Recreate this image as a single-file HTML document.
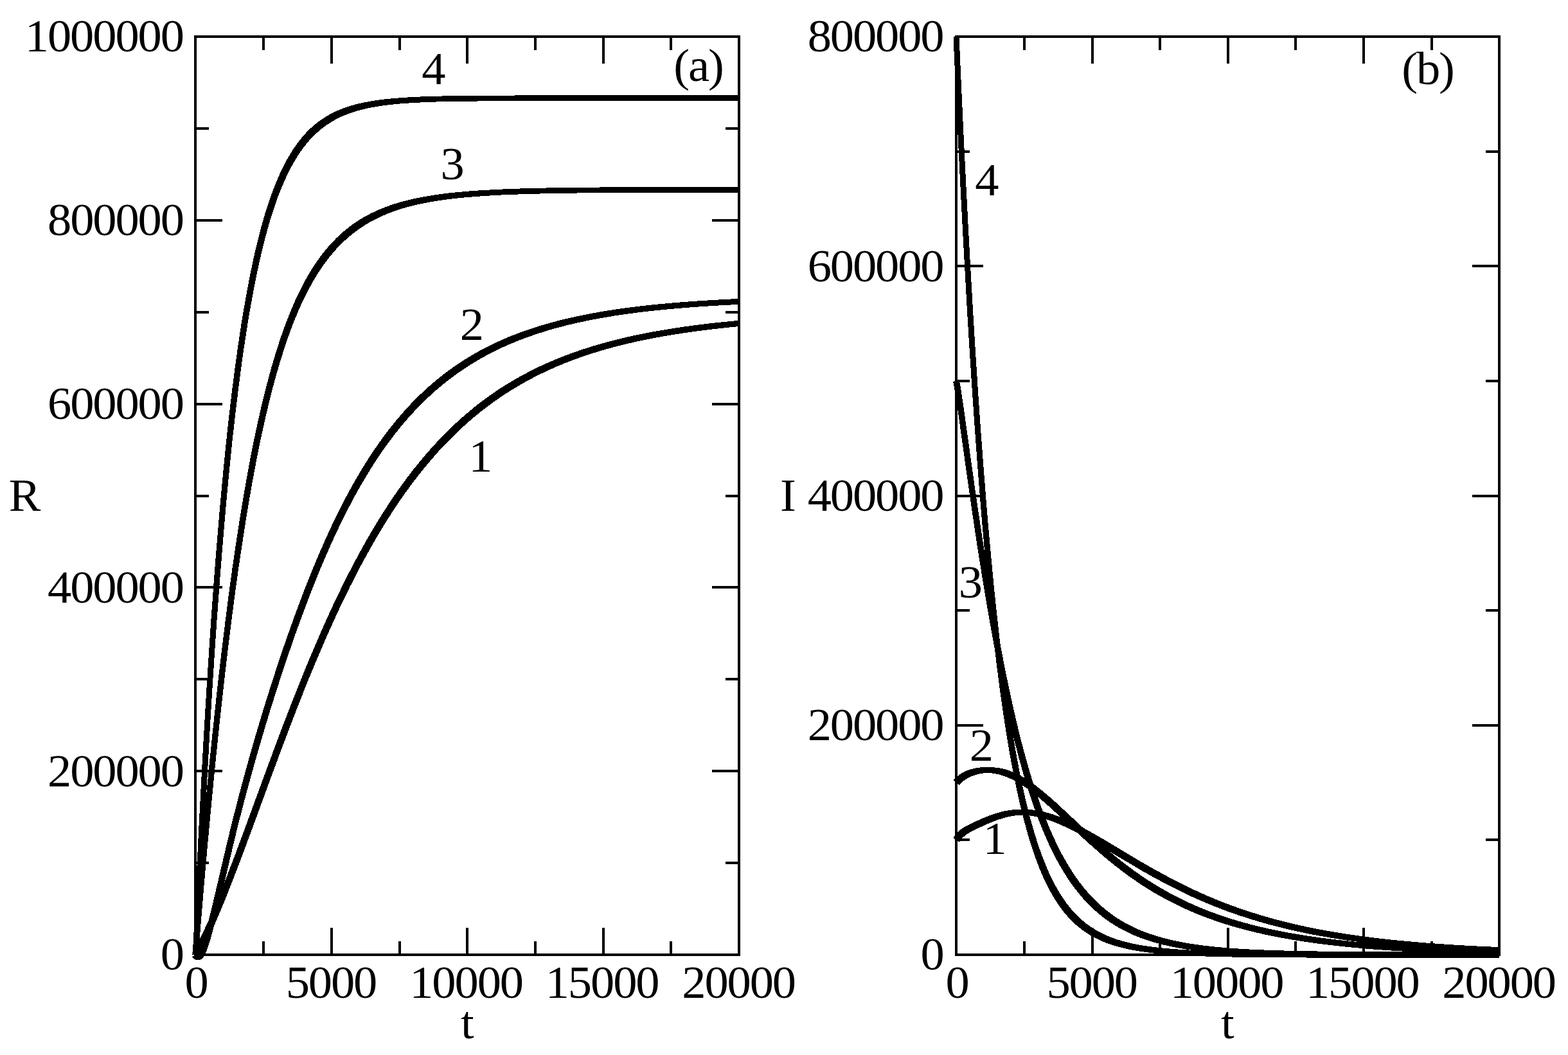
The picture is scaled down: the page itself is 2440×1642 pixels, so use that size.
<!DOCTYPE html>
<html lang="en">
<head>
<meta charset="utf-8">
<title>R and I versus t</title>
<style>
html,body{margin:0;padding:0;background:#fff;}
body{width:2440px;height:1642px;overflow:hidden;}
svg{display:block;}
.ax rect{fill:#000;}
.cv path{fill:#000;stroke:none;}
.tx text{font-family:"Liberation Serif","DejaVu Serif",serif;font-size:74.5px;letter-spacing:-2.1px;fill:#000;}
</style>
</head>
<body>
<svg xmlns="http://www.w3.org/2000/svg" width="2440" height="1642" viewBox="0 0 2440 1642">
<rect x="0" y="0" width="2440" height="1642" fill="#fff"/>
<g class="ax" shape-rendering="crispEdges">
<rect x="302" y="55" width="850" height="4"/>
<rect x="302" y="1484" width="850" height="4"/>
<rect x="302" y="55" width="4" height="1433"/>
<rect x="1148" y="55" width="4" height="1433"/>
<rect x="302" y="57" width="4" height="42"/>
<rect x="302" y="1444" width="4" height="42"/>
<rect x="408" y="57" width="4" height="21"/>
<rect x="408" y="1465" width="4" height="21"/>
<rect x="514" y="57" width="4" height="42"/>
<rect x="514" y="1444" width="4" height="42"/>
<rect x="620" y="57" width="4" height="21"/>
<rect x="620" y="1465" width="4" height="21"/>
<rect x="725" y="57" width="4" height="42"/>
<rect x="725" y="1444" width="4" height="42"/>
<rect x="831" y="57" width="4" height="21"/>
<rect x="831" y="1465" width="4" height="21"/>
<rect x="937" y="57" width="4" height="42"/>
<rect x="937" y="1444" width="4" height="42"/>
<rect x="1042" y="57" width="4" height="21"/>
<rect x="1042" y="1465" width="4" height="21"/>
<rect x="1148" y="57" width="4" height="42"/>
<rect x="1148" y="1444" width="4" height="42"/>
<rect x="304" y="1484" width="42" height="4"/>
<rect x="1108" y="1484" width="42" height="4"/>
<rect x="304" y="1341" width="21" height="4"/>
<rect x="1129" y="1341" width="21" height="4"/>
<rect x="304" y="1198" width="42" height="4"/>
<rect x="1108" y="1198" width="42" height="4"/>
<rect x="304" y="1055" width="21" height="4"/>
<rect x="1129" y="1055" width="21" height="4"/>
<rect x="304" y="912" width="42" height="4"/>
<rect x="1108" y="912" width="42" height="4"/>
<rect x="304" y="770" width="21" height="4"/>
<rect x="1129" y="770" width="21" height="4"/>
<rect x="304" y="627" width="42" height="4"/>
<rect x="1108" y="627" width="42" height="4"/>
<rect x="304" y="484" width="21" height="4"/>
<rect x="1129" y="484" width="21" height="4"/>
<rect x="304" y="341" width="42" height="4"/>
<rect x="1108" y="341" width="42" height="4"/>
<rect x="304" y="198" width="21" height="4"/>
<rect x="1129" y="198" width="21" height="4"/>
<rect x="304" y="55" width="42" height="4"/>
<rect x="1108" y="55" width="42" height="4"/>
<rect x="1486" y="55" width="849" height="4"/>
<rect x="1486" y="1484" width="849" height="4"/>
<rect x="1486" y="55" width="4" height="1433"/>
<rect x="2331" y="55" width="4" height="1433"/>
<rect x="1486" y="57" width="4" height="42"/>
<rect x="1486" y="1444" width="4" height="42"/>
<rect x="1592" y="57" width="4" height="21"/>
<rect x="1592" y="1465" width="4" height="21"/>
<rect x="1698" y="57" width="4" height="42"/>
<rect x="1698" y="1444" width="4" height="42"/>
<rect x="1803" y="57" width="4" height="21"/>
<rect x="1803" y="1465" width="4" height="21"/>
<rect x="1909" y="57" width="4" height="42"/>
<rect x="1909" y="1444" width="4" height="42"/>
<rect x="2014" y="57" width="4" height="21"/>
<rect x="2014" y="1465" width="4" height="21"/>
<rect x="2120" y="57" width="4" height="42"/>
<rect x="2120" y="1444" width="4" height="42"/>
<rect x="2226" y="57" width="4" height="21"/>
<rect x="2226" y="1465" width="4" height="21"/>
<rect x="2331" y="57" width="4" height="42"/>
<rect x="2331" y="1444" width="4" height="42"/>
<rect x="1488" y="1484" width="42" height="4"/>
<rect x="2291" y="1484" width="42" height="4"/>
<rect x="1488" y="1305" width="21" height="4"/>
<rect x="2312" y="1305" width="21" height="4"/>
<rect x="1488" y="1127" width="42" height="4"/>
<rect x="2291" y="1127" width="42" height="4"/>
<rect x="1488" y="948" width="21" height="4"/>
<rect x="2312" y="948" width="21" height="4"/>
<rect x="1488" y="770" width="42" height="4"/>
<rect x="2291" y="770" width="42" height="4"/>
<rect x="1488" y="591" width="21" height="4"/>
<rect x="2312" y="591" width="21" height="4"/>
<rect x="1488" y="412" width="42" height="4"/>
<rect x="2291" y="412" width="42" height="4"/>
<rect x="1488" y="234" width="21" height="4"/>
<rect x="2312" y="234" width="21" height="4"/>
<rect x="1488" y="55" width="42" height="4"/>
<rect x="2291" y="55" width="42" height="4"/>
</g>
<g class="cv" shape-rendering="crispEdges">
<path d="M309.0 1488.8L313.9 1480.1L318.7 1470.7L323.8 1460.5L329.1 1449.3L334.7 1437.1L340.2 1424.5L346.1 1410.5L352.2 1395.4L363.6 1366.5L376.3 1333.2L390.1 1296.2L421.4 1210.8L435.8 1172.0L451.0 1131.6L465.2 1095.0L473.4 1074.2L481.4 1054.3L489.3 1035.3L497.1 1016.8L504.9 998.6L512.5 981.4L520.1 964.6L527.7 948.2L536.6 929.5L545.3 911.9L553.9 894.9L562.8 878.0L571.5 862.1L580.3 846.4L589.2 831.2L598.0 816.6L606.9 802.5L615.9 788.6L625.0 775.3L634.2 762.3L643.5 749.8L652.7 737.8L662.2 726.1L671.6 714.9L682.3 702.7L693.0 691.3L703.9 680.2L714.8 669.7L726.0 659.3L737.3 649.6L749.0 640.1L760.7 631.1L772.6 622.5L784.9 614.1L797.3 606.3L810.0 598.7L822.9 591.4L836.3 584.5L849.9 577.9L863.7 571.7L877.9 565.7L892.4 560.1L907.4 554.7L922.7 549.7L938.5 544.9L954.6 540.4L971.4 536.1L988.6 532.1L1006.5 528.3L1024.8 524.8L1043.8 521.5L1063.6 518.4L1084.0 515.5L1105.3 512.8L1127.4 510.3L1150.5 508.0L1149.5 498.8L1126.5 501.0L1104.2 503.4L1082.8 506.0L1062.2 508.8L1042.2 511.9L1023.1 515.1L1004.6 518.5L986.5 522.2L969.0 526.2L952.0 530.4L935.6 534.9L919.6 539.6L904.0 544.6L888.6 550.0L873.9 555.6L859.3 561.6L845.2 567.8L831.3 574.4L817.6 581.5L804.3 588.8L791.3 596.5L778.6 604.4L766.0 612.9L753.8 621.7L741.8 630.8L729.8 640.6L718.2 650.5L706.7 661.1L695.6 671.8L684.5 683.1L673.6 694.8L662.7 707.2L653.1 718.6L643.5 730.5L634.1 742.7L624.8 755.4L615.4 768.7L606.3 782.2L597.1 796.3L588.2 810.5L579.3 825.3L570.4 840.7L561.5 856.6L552.8 872.7L543.9 889.7L535.2 906.9L526.5 924.7L517.6 943.4L510.0 959.9L502.4 976.9L494.8 994.2L487.0 1012.5L479.1 1031.1L471.3 1050.2L463.3 1070.1L455.0 1091.0L440.8 1127.7L425.6 1168.2L411.2 1207.1L379.9 1292.5L366.2 1329.4L353.5 1362.6L342.1 1391.4L335.9 1406.2L330.0 1420.1L324.5 1432.6L319.0 1444.6L313.8 1455.5L308.7 1465.6L303.9 1474.6L299.0 1483.2Z"/>
<path d="M1492.9 1310.5L1494.5 1308.1L1495.9 1306.2L1497.6 1304.3L1499.2 1302.7L1501.0 1301.2L1503.2 1299.4L1505.6 1297.7L1508.3 1296.1L1512.8 1293.6L1518.3 1290.8L1526.0 1287.2L1533.5 1283.8L1539.5 1281.2L1544.9 1279.0L1550.0 1277.0L1554.8 1275.3L1562.7 1273.0L1566.4 1271.9L1570.0 1271.1L1573.7 1270.4L1577.3 1269.7L1580.9 1269.2L1584.6 1268.9L1588.2 1268.6L1591.9 1268.5L1595.5 1268.7L1599.4 1269.1L1603.3 1269.5L1607.1 1270.1L1611.0 1270.8L1614.8 1271.7L1621.3 1273.3L1627.8 1275.2L1634.6 1277.4L1641.6 1280.0L1648.8 1283.0L1656.4 1286.4L1664.3 1290.1L1672.6 1294.3L1686.2 1301.6L1701.9 1310.6L1717.4 1319.8L1762.9 1346.9L1777.5 1355.5L1791.1 1363.2L1806.0 1371.3L1820.4 1378.9L1834.5 1386.0L1848.5 1392.8L1862.2 1399.0L1875.8 1404.9L1889.4 1410.5L1903.1 1415.8L1916.9 1420.9L1931.0 1425.7L1945.2 1430.3L1959.5 1434.6L1977.6 1439.7L1996.1 1444.4L2015.0 1448.8L2034.6 1453.0L2054.5 1456.8L2075.1 1460.3L2096.5 1463.6L2118.6 1466.6L2141.5 1469.4L2165.2 1472.0L2190.0 1474.3L2215.8 1476.4L2242.9 1478.4L2271.3 1480.1L2301.1 1481.7L2332.8 1483.1L2333.2 1474.1L2301.5 1472.7L2271.8 1471.1L2243.5 1469.3L2216.5 1467.3L2190.8 1465.1L2166.2 1462.7L2142.6 1460.1L2119.8 1457.2L2098.0 1454.1L2076.7 1450.7L2056.3 1447.1L2036.6 1443.2L2017.2 1439.0L1998.6 1434.5L1980.3 1429.7L1962.5 1424.6L1948.4 1420.2L1934.4 1415.6L1920.6 1410.8L1906.9 1405.7L1893.5 1400.4L1880.1 1394.8L1866.7 1388.9L1853.3 1382.7L1839.5 1375.9L1825.6 1368.9L1811.4 1361.3L1796.7 1353.2L1783.2 1345.6L1768.7 1337.1L1723.3 1309.9L1707.6 1300.7L1691.6 1291.7L1677.8 1284.3L1669.2 1280.1L1661.0 1276.3L1653.0 1272.8L1645.4 1269.9L1638.0 1267.3L1630.8 1265.1L1623.8 1263.3L1616.8 1261.8L1612.6 1261.2L1608.4 1260.6L1604.3 1260.2L1600.1 1259.9L1595.9 1259.8L1592.0 1259.8L1588.0 1259.8L1584.1 1259.8L1580.1 1260.0L1576.1 1260.3L1572.2 1260.8L1568.2 1261.4L1564.2 1262.1L1559.9 1263.0L1551.7 1265.3L1546.4 1266.9L1541.0 1268.9L1535.3 1271.0L1529.1 1273.6L1521.4 1277.1L1513.5 1280.7L1507.6 1283.6L1502.8 1286.1L1499.5 1288.0L1496.5 1289.9L1493.6 1292.0L1491.2 1294.1L1489.0 1296.3L1486.8 1298.8L1484.9 1301.4L1483.1 1304.2Z"/>
<path d="M299.2 1489.3L300.3 1491.0L302.1 1492.8L304.7 1493.9L307.5 1493.6L310.3 1494.0L312.8 1493.3L314.9 1491.8L316.5 1490.0L317.8 1487.9L319.1 1485.3L320.3 1482.8L321.5 1479.6L324.1 1472.7L326.8 1464.1L329.1 1456.0L331.4 1447.5L334.1 1436.9L337.1 1424.9L342.4 1402.8L361.0 1323.4L367.5 1296.4L374.1 1270.2L380.9 1244.0L387.7 1218.6L394.7 1193.3L402.1 1167.2L411.4 1135.5L420.9 1104.2L430.9 1072.6L440.8 1042.1L450.8 1012.6L460.7 984.1L470.7 956.7L480.4 930.8L489.3 908.2L497.9 886.9L506.6 866.4L515.3 846.7L523.9 827.9L532.8 809.5L541.7 791.9L550.5 775.1L559.6 758.7L568.7 743.2L577.9 728.0L587.2 713.7L596.6 699.9L606.3 686.5L615.9 673.9L625.8 661.6L630.8 655.7L636.0 649.7L641.3 643.9L646.5 638.3L651.7 632.9L657.1 627.4L662.6 622.1L668.0 617.0L673.4 612.0L679.0 607.0L684.7 602.2L690.5 597.4L696.3 592.8L702.2 588.3L708.0 584.0L714.0 579.6L720.1 575.5L726.1 571.5L732.4 567.5L738.6 563.7L745.1 559.8L751.5 556.2L758.0 552.7L764.7 549.2L771.3 545.8L778.2 542.5L785.1 539.3L792.2 536.2L799.3 533.2L806.4 530.3L813.7 527.5L821.2 524.7L836.3 519.5L852.0 514.5L868.1 509.9L884.7 505.7L901.9 501.7L920.0 497.9L938.7 494.5L958.3 491.2L978.5 488.3L999.5 485.6L1021.7 483.1L1044.7 480.9L1068.9 478.8L1094.5 477.0L1121.5 475.3L1150.2 473.8L1149.8 464.9L1121.0 466.3L1093.9 467.9L1068.2 469.7L1043.8 471.7L1020.7 473.8L998.4 476.2L977.2 478.8L956.8 481.7L937.0 484.8L918.1 488.2L899.8 491.9L882.3 495.8L865.5 500.0L849.0 504.5L833.0 509.4L817.7 514.5L809.9 517.3L802.4 520.2L795.1 523.0L787.9 526.0L780.6 529.2L773.5 532.4L766.4 535.7L759.6 539.1L752.7 542.7L746.0 546.2L739.4 549.9L732.7 553.8L726.3 557.7L719.8 561.8L713.6 565.9L707.4 570.1L701.2 574.5L695.1 578.9L689.1 583.5L683.1 588.3L677.1 593.2L671.3 598.1L665.5 603.2L660.0 608.3L654.4 613.6L648.8 619.0L643.2 624.6L637.9 630.2L632.5 636.0L627.2 641.9L621.9 648.1L616.7 654.2L606.7 666.6L596.9 679.5L587.1 693.2L577.5 707.3L568.1 721.9L558.8 737.3L549.7 753.1L540.5 769.7L531.6 786.7L522.7 804.5L513.8 823.2L505.2 842.2L496.5 862.0L487.8 882.7L479.1 904.1L470.2 927.0L460.5 952.9L450.6 980.5L440.6 1009.1L430.7 1038.7L420.8 1069.4L410.8 1101.1L401.3 1132.5L392.0 1164.3L384.7 1190.5L377.7 1215.9L370.9 1241.4L364.2 1267.7L357.6 1294.0L351.1 1321.1L332.5 1400.5L327.2 1422.5L324.2 1434.3L321.4 1444.8L319.1 1453.2L316.7 1460.9L314.0 1469.1L311.4 1475.6L310.2 1478.2L309.2 1480.0L308.0 1481.8L307.2 1482.8L306.6 1483.4L306.6 1483.6L307.0 1483.9L308.1 1484.5L308.8 1483.8L309.7 1483.8L309.4 1483.5L308.8 1482.7Z"/>
<path d="M1492.3 1222.1L1494.1 1220.1L1495.8 1218.5L1497.7 1216.9L1499.5 1215.4L1501.5 1213.9L1503.6 1212.5L1505.8 1211.2L1508.1 1210.0L1510.5 1208.8L1513.0 1207.8L1515.7 1206.8L1518.4 1205.9L1521.4 1205.1L1524.3 1204.4L1527.3 1203.9L1530.2 1203.4L1533.2 1203.1L1536.2 1202.8L1539.2 1202.9L1542.1 1203.2L1548.2 1204.1L1554.1 1205.3L1560.1 1207.1L1566.0 1209.2L1572.2 1211.8L1578.4 1214.9L1582.6 1217.2L1586.9 1219.7L1591.3 1222.6L1595.8 1225.6L1600.6 1228.9L1605.3 1232.5L1610.3 1236.3L1615.4 1240.5L1625.0 1248.7L1635.9 1258.4L1647.7 1269.2L1674.7 1294.6L1687.2 1306.2L1700.8 1318.4L1713.4 1329.4L1727.8 1341.5L1735.1 1347.3L1742.2 1352.8L1749.2 1358.1L1756.2 1363.3L1763.1 1368.1L1770.1 1373.0L1778.3 1378.4L1786.4 1383.5L1794.5 1388.5L1802.9 1393.3L1811.2 1398.0L1819.8 1402.6L1828.3 1406.9L1836.9 1411.1L1845.7 1415.1L1854.4 1419.0L1863.4 1422.7L1872.6 1426.4L1881.8 1429.8L1891.2 1433.1L1900.8 1436.4L1910.6 1439.5L1919.8 1442.2L1929.0 1444.8L1938.5 1447.4L1948.1 1449.8L1957.9 1452.1L1967.9 1454.4L1978.1 1456.6L1988.3 1458.6L1998.8 1460.5L2009.6 1462.4L2031.9 1466.0L2055.2 1469.2L2079.6 1472.1L2105.0 1474.7L2131.9 1477.1L2160.3 1479.2L2190.4 1481.0L2222.3 1482.7L2256.6 1484.1L2293.4 1485.3L2332.9 1486.4L2333.1 1477.6L2293.6 1476.5L2256.9 1475.2L2222.7 1473.7L2190.9 1472.0L2160.9 1470.1L2132.7 1467.9L2105.9 1465.4L2080.7 1462.7L2056.5 1459.7L2033.3 1456.4L2011.2 1452.8L2000.5 1450.8L1990.3 1448.8L1980.2 1446.8L1970.1 1444.5L1960.3 1442.3L1950.6 1439.9L1941.2 1437.4L1931.8 1434.8L1922.8 1432.2L1913.8 1429.4L1904.1 1426.3L1894.7 1423.0L1885.5 1419.7L1876.6 1416.2L1867.6 1412.6L1858.8 1408.8L1850.3 1405.0L1841.7 1401.0L1833.4 1396.9L1825.0 1392.6L1816.7 1388.0L1808.6 1383.4L1800.4 1378.6L1792.5 1373.7L1784.6 1368.7L1776.7 1363.4L1769.8 1358.6L1763.1 1353.8L1756.2 1348.7L1749.3 1343.5L1742.4 1338.1L1735.3 1332.4L1721.0 1320.4L1708.7 1309.6L1695.2 1297.4L1682.8 1285.9L1655.7 1260.6L1643.8 1249.6L1632.8 1239.8L1622.9 1231.5L1617.5 1227.1L1612.4 1223.1L1607.4 1219.5L1602.4 1216.0L1597.6 1212.8L1592.8 1209.9L1588.2 1207.3L1583.5 1204.9L1576.6 1201.7L1569.7 1199.1L1563.0 1197.0L1556.2 1195.5L1549.5 1194.6L1542.9 1194.1L1539.4 1194.1L1536.1 1194.1L1532.8 1194.1L1529.4 1194.2L1526.1 1194.4L1522.7 1194.8L1519.3 1195.3L1515.9 1196.0L1512.7 1196.8L1509.5 1197.7L1506.4 1198.7L1503.4 1199.9L1500.6 1201.2L1497.8 1202.7L1495.2 1204.2L1492.6 1206.0L1490.2 1207.8L1487.8 1209.8L1485.7 1211.9L1483.7 1214.0Z"/>
<path d="M308.6 1486.4L313.5 1426.3L318.3 1368.9L323.4 1311.5L328.5 1256.6L333.6 1204.1L338.9 1151.9L344.0 1104.1L349.3 1056.6L354.6 1011.5L359.9 968.7L365.4 926.5L370.9 886.6L376.5 849.0L382.0 813.5L387.7 778.9L393.4 746.4L399.2 715.9L405.1 686.4L411.3 657.9L417.5 631.5L423.8 606.1L430.2 582.6L433.4 571.5L436.8 560.2L440.0 550.0L443.4 539.5L446.7 529.5L450.3 519.4L453.7 510.2L457.3 500.9L460.9 492.0L464.5 483.5L468.3 474.9L472.1 466.8L475.9 459.0L479.7 451.6L483.7 444.2L487.7 437.1L491.7 430.4L495.8 423.8L500.0 417.4L504.2 411.5L507.9 406.4L511.7 401.5L515.4 396.9L519.3 392.2L523.2 387.8L527.4 383.4L531.5 379.2L535.6 375.3L539.9 371.3L544.2 367.6L548.5 364.1L553.0 360.6L557.6 357.3L562.3 354.1L567.0 351.0L571.9 348.0L576.8 345.1L582.0 342.4L587.1 339.8L592.4 337.2L597.8 334.9L603.3 332.5L609.1 330.3L614.9 328.2L620.9 326.2L627.1 324.3L633.6 322.4L640.2 320.7L647.1 319.0L654.0 317.5L661.1 316.0L668.6 314.6L682.6 312.2L697.8 310.1L713.9 308.3L731.2 306.7L749.5 305.3L769.5 304.0L791.3 303.0L815.1 302.2L840.0 301.5L867.5 300.9L898.4 300.5L933.5 300.1L1020.2 299.7L1150.0 299.5L1150.0 290.9L1020.1 291.1L933.4 291.5L898.3 291.8L867.4 292.2L839.8 292.7L814.9 293.3L790.9 294.1L769.1 295.1L748.9 296.2L730.4 297.5L713.0 299.0L696.6 300.7L681.3 302.7L667.0 304.9L659.2 306.3L652.0 307.6L644.9 309.1L637.8 310.7L630.9 312.5L624.2 314.3L617.8 316.1L611.5 318.1L605.4 320.2L599.4 322.4L593.5 324.7L587.9 327.1L582.2 329.7L576.8 332.3L571.4 335.2L566.1 338.1L560.9 341.2L555.9 344.4L550.9 347.8L546.1 351.2L541.3 354.9L536.7 358.6L532.1 362.5L527.5 366.6L523.2 370.8L518.9 375.2L514.5 379.9L510.4 384.5L506.3 389.4L502.4 394.3L498.5 399.4L494.7 404.7L490.4 411.0L486.1 417.5L481.8 424.5L477.8 431.4L473.7 438.7L469.7 446.4L465.8 454.0L462.0 462.0L458.2 470.4L454.4 479.2L450.8 487.8L447.2 496.9L443.6 506.4L440.2 515.7L436.6 526.1L433.3 536.2L429.9 546.8L426.7 557.2L423.3 568.6L420.2 579.8L413.9 603.5L407.5 629.1L401.4 655.8L395.3 684.4L389.4 714.0L383.8 744.6L378.1 777.2L372.4 812.0L366.9 847.5L361.4 885.3L355.9 925.2L350.5 967.5L345.2 1010.4L339.9 1055.6L334.7 1103.1L329.6 1150.9L324.3 1203.2L319.3 1255.7L314.2 1310.6L309.1 1368.1L304.3 1425.6L299.4 1485.6Z"/>
<path d="M1483.1 593.8L1484.6 601.8L1486.4 611.9L1490.2 636.8L1507.1 757.5L1512.0 791.3L1516.8 824.0L1521.4 854.4L1526.3 885.2L1531.1 915.0L1536.0 943.8L1541.5 975.2L1546.9 1005.2L1552.4 1034.0L1557.9 1061.4L1563.4 1087.5L1568.8 1112.2L1574.3 1135.7L1580.0 1158.7L1585.9 1181.1L1591.8 1202.2L1597.7 1221.9L1603.8 1241.0L1609.9 1258.8L1616.2 1276.0L1622.8 1292.4L1629.3 1307.6L1632.7 1315.1L1636.1 1322.2L1639.5 1329.0L1643.1 1336.0L1646.7 1342.7L1650.4 1349.1L1654.0 1355.2L1657.8 1361.4L1661.7 1367.4L1665.5 1373.1L1669.6 1378.8L1673.7 1384.2L1677.8 1389.4L1681.9 1394.4L1686.2 1399.3L1690.5 1404.0L1694.4 1408.0L1698.3 1411.9L1702.4 1415.8L1706.6 1419.4L1710.7 1423.0L1715.1 1426.5L1719.4 1429.8L1724.0 1433.1L1728.5 1436.2L1733.1 1439.2L1737.7 1442.0L1742.5 1444.7L1747.3 1447.3L1752.3 1449.9L1757.3 1452.3L1762.5 1454.7L1767.7 1456.9L1772.9 1458.9L1778.3 1461.0L1784.0 1462.9L1795.3 1466.5L1807.4 1469.8L1819.8 1472.7L1833.1 1475.3L1847.0 1477.7L1861.7 1479.8L1875.7 1481.5L1890.6 1482.9L1906.3 1484.2L1923.3 1485.4L1941.3 1486.4L1960.8 1487.2L1982.0 1487.9L2005.2 1488.5L2029.4 1489.0L2056.0 1489.3L2120.0 1489.9L2204.6 1490.1L2333.0 1490.3L2333.0 1481.7L2204.6 1481.5L2120.1 1481.2L2056.1 1480.6L2029.5 1480.2L2005.5 1479.7L1982.3 1479.1L1961.2 1478.3L1941.8 1477.4L1923.9 1476.3L1907.1 1475.1L1891.5 1473.7L1876.8 1472.1L1863.0 1470.3L1848.5 1468.1L1835.0 1465.6L1822.0 1462.8L1810.0 1459.8L1798.4 1456.4L1787.3 1452.8L1782.0 1450.8L1776.9 1448.8L1771.9 1446.7L1767.0 1444.5L1762.1 1442.2L1757.4 1439.8L1752.6 1437.3L1748.1 1434.8L1743.6 1432.1L1739.3 1429.4L1735.0 1426.6L1730.7 1423.6L1726.4 1420.4L1722.3 1417.2L1718.2 1413.9L1714.3 1410.6L1710.4 1407.1L1706.5 1403.4L1702.8 1399.7L1699.1 1395.9L1695.0 1391.4L1690.8 1386.7L1686.9 1382.0L1683.0 1377.1L1679.0 1371.9L1675.1 1366.4L1671.3 1360.9L1667.6 1355.2L1663.8 1349.2L1660.3 1343.3L1656.7 1337.1L1653.1 1330.7L1649.6 1323.9L1646.2 1317.2L1642.8 1310.3L1639.5 1303.1L1632.9 1288.2L1626.4 1272.1L1620.0 1255.2L1613.9 1237.6L1607.7 1218.8L1601.8 1199.3L1595.9 1178.4L1589.9 1156.1L1584.2 1133.3L1578.7 1110.0L1573.2 1085.3L1567.7 1059.4L1562.2 1032.1L1556.7 1003.4L1551.1 973.5L1545.6 942.2L1540.8 913.4L1535.9 883.7L1531.0 852.9L1526.4 822.6L1521.5 789.9L1516.6 756.2L1499.7 635.4L1496.0 610.4L1494.3 600.1L1492.9 592.0Z"/>
<path d="M308.5 1486.3L309.4 1473.8L310.2 1458.2L318.0 1295.6L321.0 1237.9L324.2 1179.3L327.3 1123.8L330.7 1067.9L334.1 1015.2L337.7 962.5L341.6 910.2L345.4 861.2L349.2 815.4L353.2 770.2L357.5 725.9L361.7 684.7L366.0 646.5L370.5 609.3L375.1 573.4L379.8 540.2L384.7 508.3L389.6 479.0L394.7 451.0L399.8 425.4L402.6 412.5L405.4 400.2L408.1 388.5L410.9 377.3L413.7 366.6L416.7 355.8L419.6 345.4L422.6 335.6L425.6 326.4L428.8 316.9L431.9 308.0L435.3 299.1L438.5 291.2L441.9 283.3L445.3 275.8L448.8 268.4L452.4 261.4L456.0 254.9L459.5 248.8L463.3 242.7L466.2 238.3L469.1 234.1L472.2 229.9L475.3 225.9L478.3 222.1L481.6 218.4L484.9 214.8L488.2 211.5L491.4 208.3L494.9 205.2L498.3 202.2L501.9 199.3L505.6 196.5L509.2 194.0L513.1 191.5L516.9 189.1L520.7 186.9L524.8 184.7L529.0 182.6L533.3 180.7L537.8 178.8L542.3 177.1L547.0 175.4L551.9 173.8L556.8 172.3L562.0 170.9L567.4 169.6L572.9 168.3L584.8 166.1L597.5 164.1L608.6 162.8L620.4 161.6L633.2 160.7L647.3 159.8L662.4 159.1L679.3 158.5L698.3 158.1L719.9 157.7L768.1 157.3L838.9 157.0L971.7 156.8L1150.0 156.6L1150.0 148.0L971.7 148.2L838.9 148.4L768.0 148.6L719.8 149.0L698.2 149.3L679.1 149.7L662.1 150.2L646.8 150.8L632.6 151.6L619.6 152.5L607.7 153.5L596.3 154.7L583.3 156.5L571.0 158.6L565.2 159.7L559.5 161.0L554.1 162.3L548.9 163.7L543.7 165.3L538.6 166.9L533.8 168.7L529.0 170.6L524.4 172.5L519.8 174.7L515.3 176.9L511.1 179.2L507.0 181.7L502.8 184.4L498.8 187.1L494.8 190.0L490.8 193.1L487.1 196.3L483.3 199.7L479.8 203.1L476.3 206.7L472.8 210.5L469.3 214.6L466.1 218.6L462.8 222.9L459.6 227.4L456.5 231.9L453.5 236.6L449.7 242.9L446.0 249.3L442.4 256.2L438.8 263.4L435.2 271.2L431.8 278.9L428.4 287.1L425.2 295.2L421.8 304.4L418.7 313.5L415.5 323.1L412.5 332.5L409.6 342.5L406.6 353.0L403.7 364.0L401.0 374.8L398.2 386.1L395.5 397.9L392.8 410.4L390.1 423.4L385.0 449.2L380.0 477.4L375.1 506.8L370.3 538.8L365.7 572.1L361.0 608.2L356.6 645.5L352.4 683.7L348.2 725.0L344.0 769.3L340.0 814.6L336.2 860.5L332.4 909.5L328.6 961.9L325.1 1014.6L321.7 1067.4L318.3 1123.3L315.1 1178.8L312.0 1237.4L309.0 1295.1L301.2 1457.8L300.3 1473.2L299.5 1485.7Z"/>
<path d="M1483.5 57.2L1487.1 137.8L1490.7 214.4L1494.3 287.3L1497.9 356.5L1501.5 422.1L1505.2 487.8L1509.0 549.8L1513.0 611.5L1516.8 666.5L1520.8 721.0L1524.8 772.2L1529.0 822.6L1533.2 869.6L1537.6 915.7L1542.1 958.4L1546.5 998.1L1550.9 1034.9L1555.5 1070.6L1560.3 1105.0L1565.2 1136.7L1570.2 1167.0L1572.7 1181.2L1575.4 1195.9L1578.0 1208.8L1580.7 1222.2L1583.4 1235.0L1586.1 1247.1L1588.9 1258.7L1591.8 1270.6L1594.8 1281.8L1597.7 1292.5L1600.6 1302.6L1603.6 1312.3L1606.7 1322.0L1609.9 1331.3L1613.1 1340.0L1616.4 1348.8L1619.8 1357.1L1623.2 1364.9L1626.8 1372.7L1630.4 1380.0L1634.1 1386.9L1637.9 1393.7L1640.9 1398.7L1644.1 1403.8L1647.4 1408.6L1650.6 1413.2L1653.9 1417.5L1657.3 1421.8L1660.8 1425.8L1664.3 1429.7L1668.1 1433.5L1671.8 1437.1L1675.5 1440.4L1679.5 1443.7L1683.5 1446.8L1687.7 1449.8L1691.8 1452.7L1696.3 1455.4L1700.7 1457.9L1705.1 1460.3L1709.7 1462.5L1714.5 1464.7L1719.6 1466.8L1724.6 1468.7L1729.8 1470.5L1735.1 1472.2L1740.7 1473.8L1746.3 1475.2L1752.2 1476.6L1758.2 1477.9L1764.4 1479.1L1770.9 1480.2L1784.6 1482.2L1797.6 1483.8L1811.6 1485.1L1826.7 1486.2L1843.3 1487.2L1861.3 1488.0L1881.4 1488.7L1903.6 1489.3L1928.6 1489.7L1983.6 1490.3L2055.4 1490.6L2147.9 1490.6L2333.0 1490.5L2333.0 1481.9L2147.9 1482.0L2055.4 1482.0L1983.6 1481.7L1928.7 1481.0L1903.8 1480.5L1881.7 1479.9L1861.7 1479.1L1843.8 1478.2L1827.4 1477.1L1812.5 1475.9L1798.6 1474.4L1785.9 1472.7L1772.5 1470.6L1766.3 1469.4L1760.3 1468.1L1754.5 1466.7L1748.9 1465.3L1743.6 1463.8L1738.2 1462.1L1733.3 1460.4L1728.4 1458.6L1723.7 1456.7L1719.0 1454.6L1714.6 1452.5L1710.3 1450.3L1706.3 1448.0L1702.2 1445.6L1698.2 1443.0L1694.4 1440.3L1690.5 1437.5L1686.9 1434.6L1683.3 1431.5L1679.8 1428.4L1676.4 1425.1L1672.9 1421.6L1669.6 1418.0L1666.4 1414.2L1663.1 1410.2L1660.0 1406.2L1656.9 1401.9L1653.8 1397.4L1650.7 1392.6L1647.8 1387.9L1644.0 1381.4L1640.5 1374.9L1636.9 1367.8L1633.3 1360.3L1630.0 1352.8L1626.6 1344.7L1623.2 1336.2L1620.0 1327.7L1616.8 1318.6L1613.7 1309.1L1610.7 1299.6L1607.7 1289.6L1604.7 1279.1L1601.8 1268.0L1598.8 1256.3L1596.0 1244.8L1593.3 1232.8L1590.5 1220.1L1587.7 1206.9L1585.2 1194.0L1582.4 1179.4L1579.9 1165.3L1574.8 1135.2L1569.9 1103.6L1565.0 1069.3L1560.3 1033.7L1555.9 997.0L1551.4 957.4L1546.9 914.7L1542.5 868.8L1538.2 821.8L1534.0 771.4L1530.0 720.3L1525.9 665.8L1522.1 610.9L1518.1 549.2L1514.3 487.2L1510.5 421.5L1506.9 356.0L1503.3 286.8L1499.7 214.0L1496.1 137.4L1492.5 56.8Z"/>
</g>
<g class="tx">
<text transform="translate(249.74 1509.31) scale(1 0.959)">0</text>
<text transform="translate(73.99 1223.51) scale(1 0.959)">200000</text>
<text transform="translate(73.99 937.71) scale(1 0.959)">400000</text>
<text transform="translate(73.99 651.91) scale(1 0.959)">600000</text>
<text transform="translate(73.99 366.11) scale(1 0.959)">800000</text>
<text transform="translate(38.84 80.31) scale(1 0.959)">1000000</text>
<text transform="translate(1432.39 1509.31) scale(1 0.959)">0</text>
<text transform="translate(1256.64 1152.06) scale(1 0.959)">200000</text>
<text transform="translate(1256.64 794.81) scale(1 0.959)">400000</text>
<text transform="translate(1256.64 437.56) scale(1 0.959)">600000</text>
<text transform="translate(1256.64 80.31) scale(1 0.959)">800000</text>
<text transform="translate(287.38 1553.31) scale(1 0.959)">0</text>
<text transform="translate(444.70 1553.31) scale(1 0.959)">5000</text>
<text transform="translate(637.22 1553.31) scale(1 0.959)">10000</text>
<text transform="translate(848.72 1553.31) scale(1 0.959)">15000</text>
<text transform="translate(1061.31 1553.31) scale(1 0.959)">20000</text>
<text transform="translate(1471.38 1553.31) scale(1 0.959)">0</text>
<text transform="translate(1628.45 1553.31) scale(1 0.959)">5000</text>
<text transform="translate(1820.72 1553.31) scale(1 0.959)">10000</text>
<text transform="translate(2031.97 1553.31) scale(1 0.959)">15000</text>
<text transform="translate(2244.31 1553.31) scale(1 0.959)">20000</text>
<text transform="translate(13.64 795.24) scale(1 0.959)">R</text>
<text transform="translate(1214.06 795.34) scale(1 0.959)">I</text>
<text transform="translate(717.06 1615.61) scale(1 0.959)">t</text>
<text transform="translate(1900.01 1615.61) scale(1 0.959)">t</text>
<text transform="translate(1048.26 126.13) scale(1 0.959)">(a)</text>
<text transform="translate(2181.22 131.08) scale(1 0.959)">(b)</text>
<text transform="translate(656.23 130.91) scale(1 0.959)">4</text>
<text transform="translate(685.45 279.20) scale(1 0.959)">3</text>
<text transform="translate(715.84 529.15) scale(1 0.959)">2</text>
<text transform="translate(729.24 734.08) scale(1 0.959)">1</text>
<text transform="translate(1517.23 303.91) scale(1 0.959)">4</text>
<text transform="translate(1491.65 929.55) scale(1 0.959)">3</text>
<text transform="translate(1508.79 1184.05) scale(1 0.959)">2</text>
<text transform="translate(1529.39 1329.13) scale(1 0.959)">1</text>
</g>
</svg>
</body>
</html>
